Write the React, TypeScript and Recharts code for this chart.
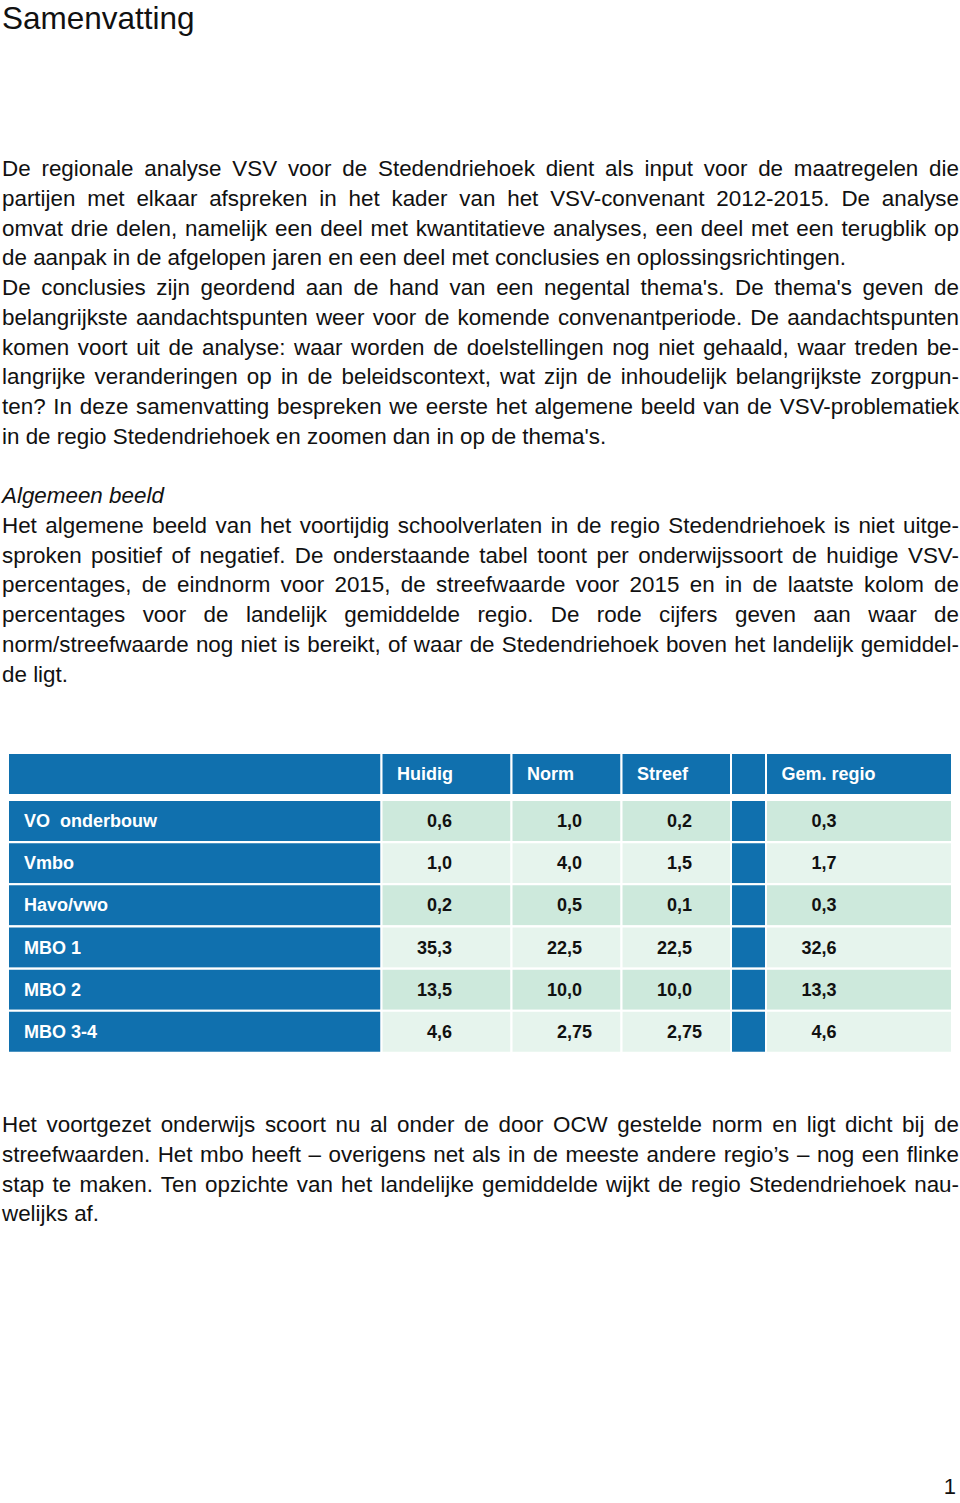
import { BarChart, Bar, XAxis, YAxis, Cell, LabelList } from 'recharts'

const onderwijssoorten = ['VO  onderbouw', 'Vmbo', 'Havo/vwo', 'MBO 1', 'MBO 2', 'MBO 3-4']
const huidig = [0.6, 1.0, 0.2, 35.3, 13.5, 4.6]
const norm = [1.0, 4.0, 0.5, 22.5, 10.0, 2.75]
const streef = [0.2, 1.5, 0.1, 22.5, 10.0, 2.75]
const gemRegio = [0.3, 1.7, 0.3, 32.6, 13.3, 4.6]
const kolomKoppen = ['', 'Huidig', 'Norm', 'Streef', '', 'Gem. regio']

const BLUE = '#1070ae'
const GREEN_DARK = '#cde9dc'
const GREEN_LIGHT = '#e6f4ed'
const FONT = '"Liberation Sans", Arial, Helvetica, sans-serif'

// column widths in px, each including its share of the white 2px gutter
const columns = [
  { key: 'soort', width: 373.5, kind: 'label' },
  { key: 'huidig', width: 130, kind: 'value' },
  { key: 'norm', width: 110, kind: 'value' },
  { key: 'streef', width: 109.5, kind: 'value' },
  { key: 'leeg', width: 35, kind: 'blank' },
  { key: 'gem', width: 186, kind: 'value' },
]
const TABLE_W = columns.reduce((s, c) => s + c.width, 0)

const rows = onderwijssoorten.map((soort, i) => ({
  soort,
  huidig: huidig[i],
  norm: norm[i],
  streef: streef[i],
  gem: gemRegio[i],
}))

const fmt = (v: number) => {
  const dec = Math.round(v * 100) % 10 !== 0 ? 2 : 1
  return v.toFixed(dec).replace('.', ',')
}

const cellText = { fontFamily: FONT, fontSize: 18, fontWeight: 700 }

function HeaderTable() {
  return (
    <BarChart
      width={TABLE_W}
      height={42}
      data={[{ soort: '' }]}
      layout="vertical"
      margin={{ top: 0, right: 0, bottom: 0, left: 0 }}
      barCategoryGap={0}
    >
      <XAxis type="number" hide domain={[0, TABLE_W]} allowDataOverflow />
      <YAxis type="category" dataKey="soort" hide />
      {columns.map((col, ci) => (
        <Bar
          key={col.key}
          dataKey={() => col.width}
          stackId="kop"
          fill={BLUE}
          stroke="#fff"
          strokeWidth={2}
          isAnimationActive={false}
        >
          <LabelList
            dataKey="soort"
            content={(p: any) => (
              <text
                x={Number(p.x) + 15.5}
                y={Number(p.y) + Number(p.height) / 2 + 6}
                fill="#fff"
                style={cellText}
              >
                {kolomKoppen[ci]}
              </text>
            )}
          />
        </Bar>
      ))}
    </BarChart>
  )
}

function BodyTable() {
  return (
    <BarChart
      width={TABLE_W}
      height={253}
      data={rows}
      layout="vertical"
      margin={{ top: 0, right: 0, bottom: 0, left: 0 }}
      barCategoryGap={0}
    >
      <XAxis type="number" hide domain={[0, TABLE_W]} allowDataOverflow />
      <YAxis type="category" dataKey="soort" hide />
      {columns.map((col) => (
        <Bar
          key={col.key}
          dataKey={() => col.width}
          stackId="tabel"
          stroke="#fff"
          strokeWidth={2}
          isAnimationActive={false}
        >
          {rows.map((_, i) => (
            <Cell
              key={i}
              fill={col.kind === 'value' ? (i % 2 === 0 ? GREEN_DARK : GREEN_LIGHT) : BLUE}
            />
          ))}
          {col.kind === 'label' && (
            <LabelList
              dataKey="soort"
              content={(p: any) => (
                <text
                  x={Number(p.x) + 16}
                  y={Number(p.y) + Number(p.height) / 2 + 6}
                  fill="#fff"
                  style={{ ...cellText, whiteSpace: 'pre' }}
                >
                  {p.value}
                </text>
              )}
            />
          )}
          {col.kind === 'value' && (
            <LabelList
              dataKey={col.key}
              content={(p: any) => {
                const [int, dec] = fmt(Number(p.value)).split(',')
                const ax = Number(p.x) + 60.5
                const y = Number(p.y) + Number(p.height) / 2 + 6
                return (
                  <g>
                    <text x={ax} y={y} textAnchor="end" fill="#111" style={cellText}>
                      {int + ','}
                    </text>
                    <text x={ax} y={y} textAnchor="start" fill="#111" style={cellText}>
                      {dec}
                    </text>
                  </g>
                )
              }}
            />
          )}
        </Bar>
      ))}
    </BarChart>
  )
}

type Line = { t: string; j?: boolean; i?: boolean }

const topLines: Line[] = [
  { t: 'De regionale analyse VSV voor de Stedendriehoek dient als input voor de maatregelen die', j: true },
  { t: 'partijen met elkaar afspreken in het kader van het VSV-convenant 2012-2015. De analyse', j: true },
  { t: 'omvat drie delen, namelijk een deel met kwantitatieve analyses, een deel met een terugblik op', j: true },
  { t: 'de aanpak in de afgelopen jaren en een deel met conclusies en oplossingsrichtingen.' },
  { t: "De conclusies zijn geordend aan de hand van een negental thema's. De thema's geven de", j: true },
  { t: 'belangrijkste aandachtspunten weer voor de komende convenantperiode. De aandachtspunten', j: true },
  { t: 'komen voort uit de analyse: waar worden de doelstellingen nog niet gehaald, waar treden be-', j: true },
  { t: 'langrijke veranderingen op in de beleidscontext, wat zijn de inhoudelijk belangrijkste zorgpun-', j: true },
  { t: 'ten? In deze samenvatting bespreken we eerste het algemene beeld van de VSV-problematiek', j: true },
  { t: "in de regio Stedendriehoek en zoomen dan in op de thema's." },
  { t: '\u00a0' },
  { t: 'Algemeen beeld', i: true },
  { t: 'Het algemene beeld van het voortijdig schoolverlaten in de regio Stedendriehoek is niet uitge-', j: true },
  { t: 'sproken positief of negatief. De onderstaande tabel toont per onderwijssoort de huidige VSV-', j: true },
  { t: 'percentages, de eindnorm voor 2015, de streefwaarde voor 2015 en in de laatste kolom de', j: true },
  { t: 'percentages voor de landelijk gemiddelde regio. De rode cijfers geven aan waar de', j: true },
  { t: 'norm/streefwaarde nog niet is bereikt, of waar de Stedendriehoek boven het landelijk gemiddel-', j: true },
  { t: 'de ligt.' },
]

const bottomLines: Line[] = [
  { t: 'Het voortgezet onderwijs scoort nu al onder de door OCW gestelde norm en ligt dicht bij de', j: true },
  { t: 'streefwaarden. Het mbo heeft \u2013 overigens net als in de meeste andere regio\u2019s \u2013 nog een flinke', j: true },
  { t: 'stap te maken. Ten opzichte van het landelijke gemiddelde wijkt de regio Stedendriehoek nau-', j: true },
  { t: 'welijks af.' },
]

function TextBlock({ lines, top }: { lines: Line[]; top: number }) {
  return (
    <div style={{ position: 'absolute', left: 2, top, width: 957, fontSize: 22.4, lineHeight: '29.73px' }}>
      {lines.map((l, k) => (
        <div
          key={k}
          style={{
            height: 29.73,
            whiteSpace: 'nowrap',
            textAlign: l.j ? 'justify' : 'left',
            textAlignLast: l.j ? 'justify' : 'left',
            fontStyle: l.i ? 'italic' : 'normal',
          }}
        >
          {l.t}
        </div>
      ))}
    </div>
  )
}

export default function App() {
  return (
    <div
      style={{
        position: 'relative',
        width: 960,
        height: 1503,
        background: '#fff',
        color: '#111',
        fontFamily: FONT,
        overflow: 'hidden',
      }}
    >
      <style>{'body{margin:0}'}</style>
      <div style={{ position: 'absolute', left: 2, top: 0, fontSize: 31.5, lineHeight: 'normal' }}>
        Samenvatting
      </div>
      <TextBlock lines={topLines} top={154.3} />
      <div style={{ position: 'absolute', left: 8, top: 753 }}>
        <HeaderTable />
      </div>
      <div style={{ position: 'absolute', left: 8, top: 800 }}>
        <BodyTable />
      </div>
      <TextBlock lines={bottomLines} top={1110.3} />
      <div style={{ position: 'absolute', right: 4, top: 1476, fontSize: 22, lineHeight: '22px' }}>1</div>
    </div>
  )
}
